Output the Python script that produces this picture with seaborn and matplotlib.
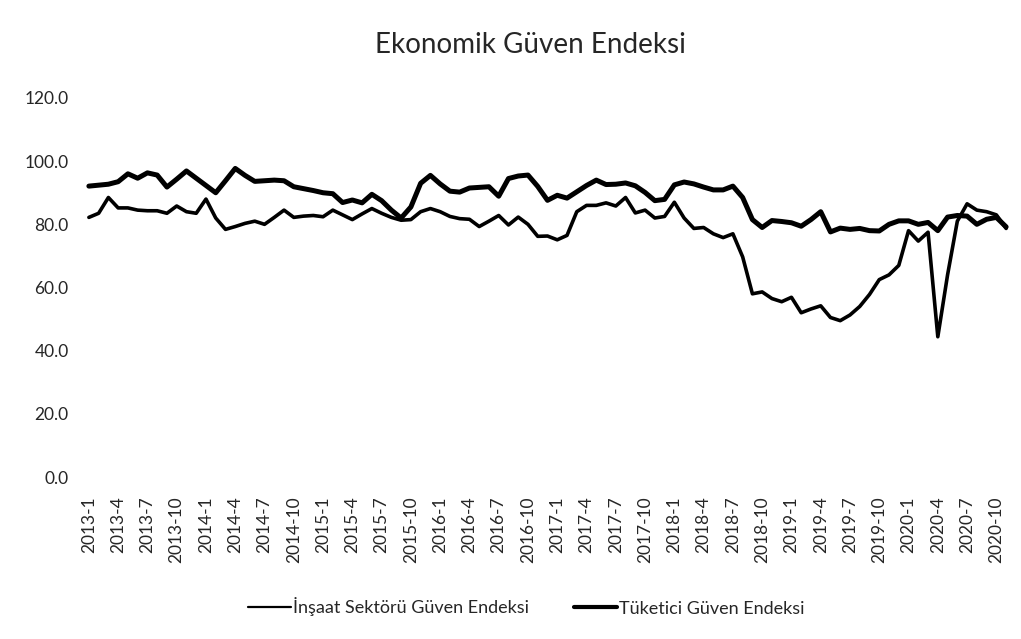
import matplotlib
matplotlib.use("Agg")
import matplotlib.pyplot as plt
from matplotlib.lines import Line2D
import numpy as np
import pandas as pd
import seaborn as sns

# monthly values, 2013-1 .. 2020-11
insaat = [
    82.2, 83.5, 88.5, 85.2, 85.2, 84.5, 84.3, 84.3, 83.5, 85.8, 84.0, 83.5,
    88.0, 82.0, 78.4, 79.3, 80.3, 81.0, 80.0, 82.2, 84.5, 82.2, 82.6, 82.8,
    82.4, 84.5, 83.0, 81.5, 83.3, 85.0, 83.5, 82.2, 81.3, 81.5, 84.0, 85.0,
    84.0, 82.5, 81.8, 81.6, 79.3, 81.0, 82.8, 79.8, 82.3, 80.0, 76.2, 76.3,
    75.1, 76.5, 84.0, 86.0, 86.0, 86.8, 85.8, 88.5, 83.6, 84.5, 82.0, 82.5,
    87.0, 82.0, 78.7, 79.0, 77.0, 75.8, 77.0, 69.7, 58.0, 58.6, 56.5, 55.5,
    56.9, 52.0, 53.2, 54.2, 50.5, 49.5, 51.3, 54.0, 57.8, 62.5, 64.0, 67.0,
    78.0, 74.7, 77.5, 44.4, 64.0, 81.0, 86.5, 84.5, 84.0, 83.0, 78.7,
]
tuketici = [
    92.1, 92.4, 92.7, 93.5, 96.0, 94.6, 96.3, 95.6, 91.8, 94.3, 96.9, 94.6,
    92.3, 90.0, 93.8, 97.7, 95.5, 93.6, 93.8, 94.0, 93.8, 91.9, 91.3, 90.7,
    90.0, 89.7, 86.9, 87.7, 86.8, 89.5, 87.5, 84.5, 82.0, 85.5, 93.0, 95.5,
    92.8, 90.5, 90.2, 91.5, 91.7, 91.9, 88.9, 94.5, 95.3, 95.6, 92.0, 87.6,
    89.2, 88.3, 90.3, 92.3, 94.0, 92.6, 92.7, 93.1, 92.2, 90.1, 87.5, 87.9,
    92.5, 93.4, 92.8, 91.8, 90.9, 90.9, 92.1, 88.5, 81.5, 79.0, 81.2, 80.9,
    80.5, 79.4, 81.5, 84.0, 77.6, 78.8, 78.4, 78.7, 78.0, 77.9, 80.0, 81.1,
    81.1, 80.0, 80.6, 78.0, 82.3, 82.8, 82.6, 80.0, 81.6, 82.2, 79.2,
]
months = [f"{y}-{m}" for y in range(2013, 2021) for m in range(1, 13)][:len(insaat)]
yticks = [0, 20, 40, 60, 80, 100, 120]

name_ins = "İnşaat Sektörü Güven Endeksi"
name_tuk = "Tüketici Güven Endeksi"

df = pd.DataFrame({"idx": np.arange(len(months)), "ay": months,
                   name_ins: insaat, name_tuk: tuketici})

sns.set_style("white")
plt.rcParams["font.family"] = ["Lato", "DejaVu Sans"]

fig = plt.figure(figsize=(10.21, 6.39), dpi=100)
ax = fig.add_axes([84 / 1021, 1 - 477 / 639, 927 / 1021, 379 / 639])

sns.lineplot(data=df, x="idx", y=name_ins, ax=ax, color="black",
             linewidth=2.6, legend=False, solid_joinstyle="round",
             solid_capstyle="round")
sns.lineplot(data=df, x="idx", y=name_tuk, ax=ax, color="black",
             linewidth=3.6, legend=False, solid_joinstyle="round",
             solid_capstyle="round")

ax.set_xlim(-0.5, len(months) - 0.5)
ax.set_ylim(0, 120)
ax.set_yticks(yticks)
ax.set_yticklabels([f"{v:.1f}" for v in yticks], fontsize=12.5)
ax.set_xticks(df["idx"][::3])
ax.set_xticklabels(df["ay"][::3], rotation=90, fontsize=12.5)
ax.tick_params(axis="both", length=0)
ax.tick_params(axis="y", pad=11)
ax.tick_params(axis="x", pad=14)
ax.set_xlabel("")
ax.set_ylabel("")
sns.despine(ax=ax, left=True, bottom=True)

fig.text(0.52, 1 - 45 / 639, "Ekonomik Güven Endeksi", ha="center",
         va="center", fontsize=20)

# legend samples: thin for İnşaat, thick for Tüketici (as in the original)
handles = [Line2D([], [], color="black", linewidth=1.6),
           Line2D([], [], color="black", linewidth=3.0)]
ax.legend(handles, [name_ins, name_tuk], loc="center",
          bbox_to_anchor=(526 / 1021, 1 - 607 / 639),
          bbox_transform=fig.transFigure, ncol=2, frameon=False, fontsize=13,
          handlelength=2.4, handletextpad=0.1, columnspacing=2.5)

fig.savefig("out.png", dpi=100, facecolor="white")
